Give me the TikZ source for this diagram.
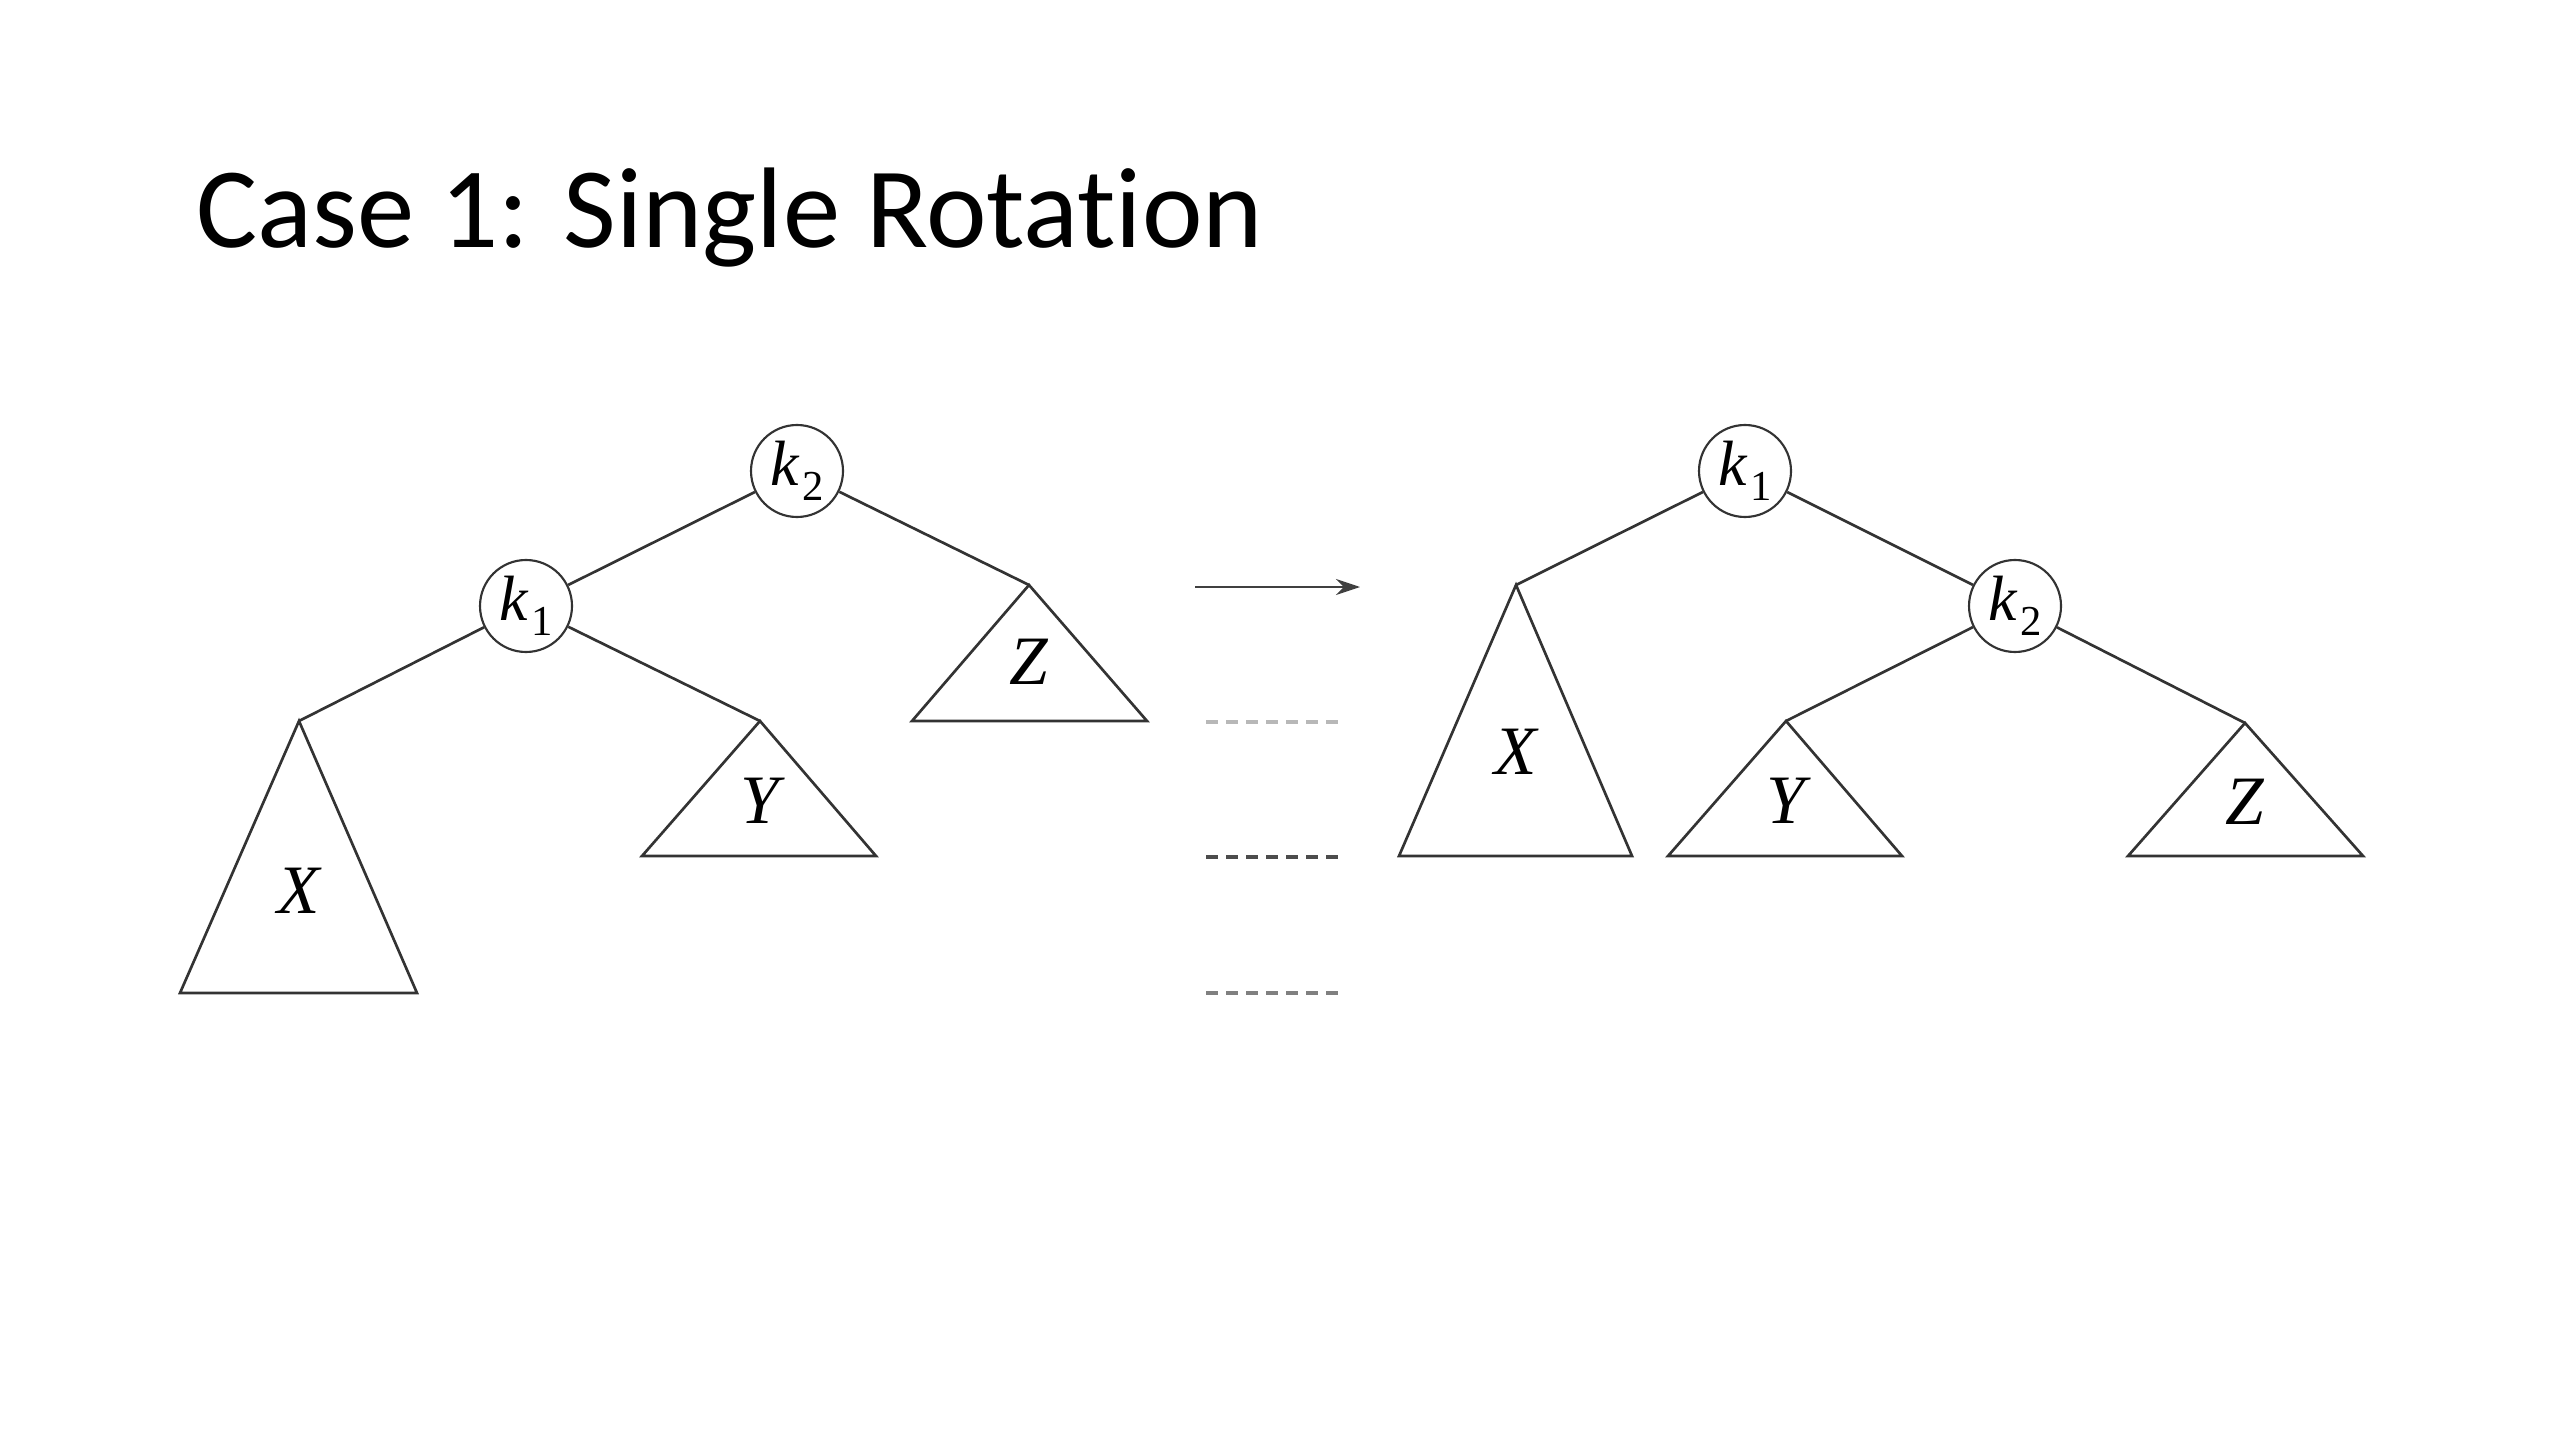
\documentclass[tikz,border=0pt]{standalone}
\usepackage{fontspec}
\setmainfont{Liberation Serif}
\newfontfamily\titlefont[RawFeature=-liga]{Carlito}
\usetikzlibrary{arrows.meta}
\newcommand{\keylabel}[1]{\textit{k}\kern1pt\raisebox{-0.5ex}{\fontsize{16}{16}\selectfont #1}}
\begin{document}
\begin{tikzpicture}[x=0.375pt,y=-0.375pt,
  keynode/.style={circle,draw=black!80,line width=0.8pt,minimum size=34.5pt,inner sep=0pt,font=\fontsize{24}{24}\selectfont},
  edge/.style={draw=black!80,line width=1pt},
  tri/.style={draw=black!80,line width=1pt,line join=miter},
  sublabel/.style={font=\fontsize{26}{26}\selectfont\itshape,inner sep=0pt},
  dashline/.style={line width=1.3pt,dash pattern=on 4.5pt off 3pt}]
\useasboundingbox (0,0) rectangle (2560,1440);
\node[anchor=base west,inner sep=0pt,font=\titlefont\fontsize{43}{43}\selectfont] (title) at (196,248) {Case 1: Single Rotation};

% ---- left tree ----
\node[keynode] (Lk2) at (797,471) {\keylabel{2}};
\node[keynode] (Lk1) at (526,606) {\keylabel{1}};
\coordinate (LXa) at (299,721);
\coordinate (LYa) at (760,721);
\coordinate (LZa) at (1029,585);
\draw[edge] (Lk2) -- (Lk1);
\draw[edge] (Lk2) -- (LZa);
\draw[edge] (Lk1) -- (LXa);
\draw[edge] (Lk1) -- (LYa);
\draw[tri] (LXa) -- (180,993) -- (417,993) -- cycle;
\draw[tri] (LYa) -- (642,856) -- (876,856) -- cycle;
\draw[tri] (LZa) -- (912,721) -- (1147,721) -- cycle;
\node[sublabel] (LX) at (299,891) {X};
\node[sublabel] (LY) at (760,801) {Y};
\node[sublabel] (LZ) at (1029,662) {Z};

% ---- arrow and dashed guides ----
\coordinate (arrS) at (1195,587);
\coordinate (arrE) at (1360,587);
\draw[line width=1pt,draw=black!75,-{Stealth[length=9pt,width=6pt]}] (arrS) -- (arrE);
\coordinate (d1s) at (1206,722); \coordinate (d1e) at (1344,722);
\coordinate (d2s) at (1206,857); \coordinate (d2e) at (1344,857);
\coordinate (d3s) at (1206,993); \coordinate (d3e) at (1344,993);
\draw[dashline,draw=black!28] (d1s) -- (d1e);
\draw[dashline,draw=black!70] (d2s) -- (d2e);
\draw[dashline,draw=black!50] (d3s) -- (d3e);

% ---- right tree ----
\node[keynode] (Rk1) at (1745,471) {\keylabel{1}};
\node[keynode] (Rk2) at (2015,606) {\keylabel{2}};
\coordinate (RXa) at (1516,585);
\coordinate (RYa) at (1786,721);
\coordinate (RZa) at (2245,723);
\draw[edge] (Rk1) -- (RXa);
\draw[edge] (Rk1) -- (Rk2);
\draw[edge] (Rk2) -- (RYa);
\draw[edge] (Rk2) -- (RZa);
\draw[tri] (RXa) -- (1399,856) -- (1632,856) -- cycle;
\draw[tri] (RYa) -- (1668,856) -- (1902,856) -- cycle;
\draw[tri] (RZa) -- (2128,856) -- (2363,856) -- cycle;
\node[sublabel] (RX) at (1516,752) {X};
\node[sublabel] (RY) at (1786,801) {Y};
\node[sublabel] (RZ) at (2245,802) {Z};
\end{tikzpicture}
\end{document}
